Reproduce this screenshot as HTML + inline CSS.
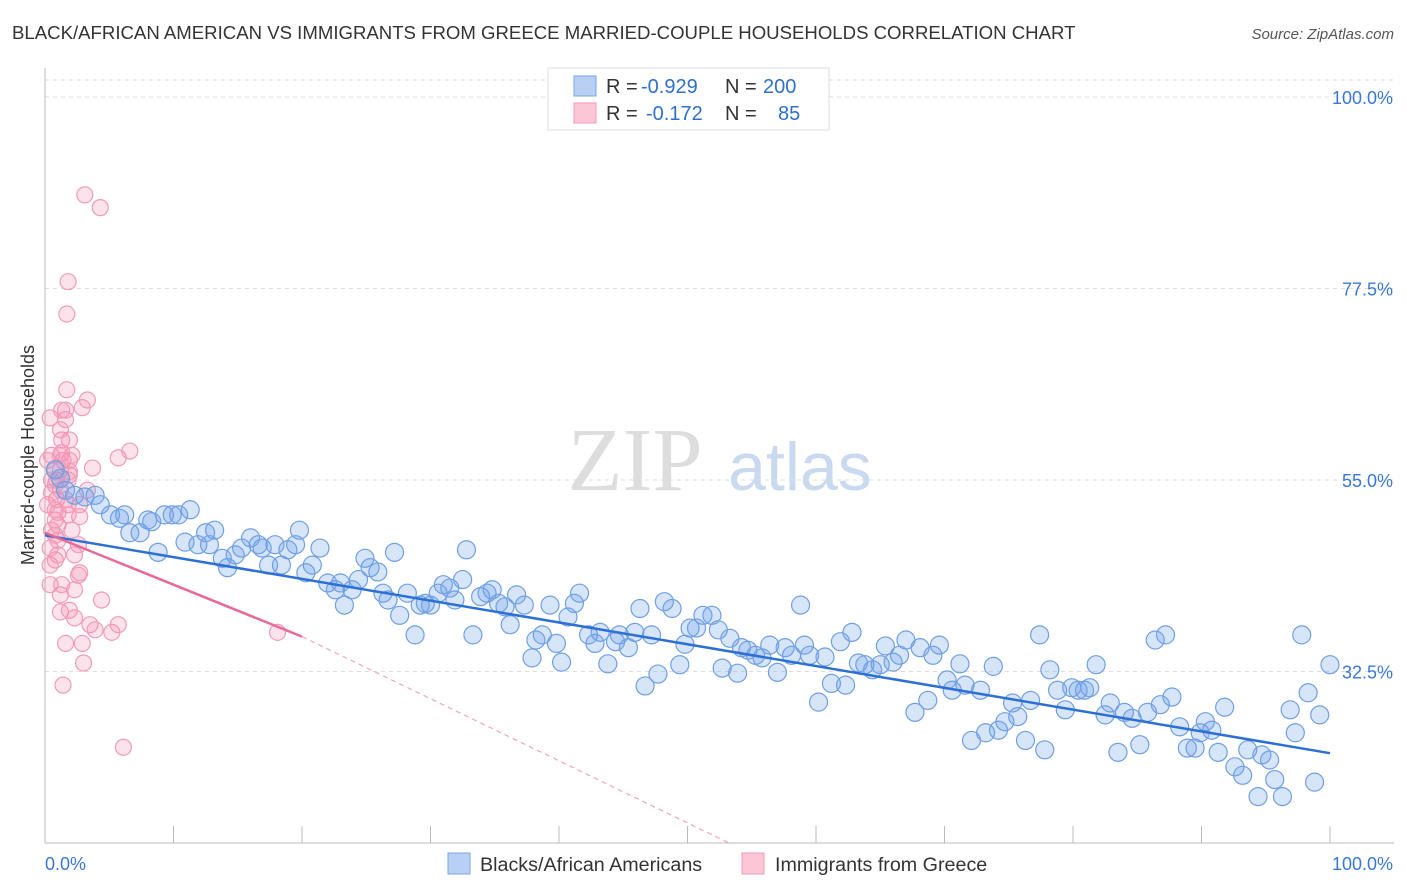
<!DOCTYPE html>
<html><head><meta charset="utf-8">
<style>
body{margin:0;background:#fff;font-family:"Liberation Sans",sans-serif;}
svg{display:block}
</style></head>
<body>
<svg id="chart" width="1406" height="892">
<text x="12" y="39" font-size="18.6" fill="#333">BLACK/AFRICAN AMERICAN VS IMMIGRANTS FROM GREECE MARRIED-COUPLE HOUSEHOLDS CORRELATION CHART</text>
<text x="1394" y="39" font-size="15" fill="#555" font-style="italic" text-anchor="end">Source: ZipAtlas.com</text>
<text x="34" y="455" font-size="18" fill="#333" text-anchor="middle" transform="rotate(-90 34 455)">Married-couple Households</text>
<g>
<text x="635" y="490" font-size="90" fill="#ddd" font-family="Liberation Serif" text-anchor="middle">ZIP</text>
<text x="800" y="490" font-size="68" fill="#c9daf0" text-anchor="middle">atlas</text>
</g>
<g id="grid"></g>
<g id="axes"></g>
<g id="pink"></g>
<g id="blue"></g>
<g id="lines"></g>
<g>
<rect x="548" y="68" width="281" height="62" fill="#fff" stroke="#ddd"/>
<rect x="574" y="76" width="22" height="20" fill="#b8d0f3" stroke="#7aa6e6"/>
<text x="606" y="93" font-size="20" fill="#333">R = </text><text x="641" y="93" font-size="20" fill="#2f6fd0">-0.929</text>
<text x="725" y="93" font-size="20" fill="#333">N = </text><text x="763" y="93" font-size="20" fill="#2f6fd0">200</text>
<rect x="574" y="103" width="22" height="20" fill="#fcc6d6" stroke="#f09ab6"/>
<text x="606" y="120" font-size="20" fill="#333">R = </text><text x="646" y="120" font-size="20" fill="#2f6fd0">-0.172</text>
<text x="725" y="120" font-size="20" fill="#333">N = </text><text x="778" y="120" font-size="20" fill="#2f6fd0">85</text>
</g>
<g>
<rect x="448" y="853" width="22" height="21" fill="#b8d0f3" stroke="#7aa6e6"/>
<text x="480" y="871" font-size="19.7" fill="#333">Blacks/African Americans</text>
<rect x="742" y="853" width="22" height="21" fill="#fcc6d6" stroke="#f09ab6"/>
<text x="775" y="871" font-size="19.7" fill="#333">Immigrants from Greece</text>
</g>
</svg>
<script>
const yTicks=[100,77.5,55,32.5];
const blueX=[0.8,1.2,1.6,2.3,3.1,3.9,4.3,5.1,5.8,6.2,6.6,7.4,8.0,8.3,8.8,9.3,9.9,10.4,10.9,11.3,11.9,12.5,12.8,13.2,13.8,14.2,14.8,15.3,16.0,16.6,16.9,17.4,17.9,18.4,18.9,19.5,19.8,20.3,20.8,21.4,22.0,22.6,23.0,23.3,23.9,24.4,24.9,25.3,25.9,26.3,26.7,27.2,27.6,28.2,28.8,29.2,29.6,30.0,30.6,31.0,31.5,31.9,32.5,32.8,33.3,33.9,34.4,34.8,35.3,35.8,36.2,36.7,37.3,37.9,38.2,38.7,39.3,39.8,40.2,40.7,41.2,41.6,42.3,42.8,43.2,43.8,44.4,44.7,45.4,45.9,46.3,46.7,47.2,47.7,48.2,48.8,49.4,49.8,50.2,50.7,51.2,51.9,52.4,52.7,53.3,53.9,54.2,54.7,55.3,55.8,56.4,57.0,57.6,58.1,58.8,59.1,59.5,60.2,60.7,61.2,61.9,62.3,62.8,63.3,63.8,64.4,65.0,65.4,66.0,66.5,67.0,67.7,68.1,68.7,69.1,69.6,70.2,70.6,71.2,71.6,72.1,72.8,73.2,73.8,74.2,74.7,75.3,75.7,76.3,76.7,77.4,77.8,78.2,78.8,79.4,79.9,80.4,80.9,81.3,81.8,82.5,82.9,83.5,84.0,84.6,85.2,85.8,86.4,86.8,87.2,87.7,88.3,88.9,89.5,89.9,90.3,90.8,91.3,91.8,92.6,93.2,93.6,94.4,94.7,95.3,95.7,96.3,96.9,97.3,97.8,98.3,98.8,99.2,100];
const blueY=[56.2,55.2,53.8,53.2,53.0,53.2,52.1,50.9,50.5,50.9,48.8,48.8,50.3,50.1,46.5,50.9,50.9,50.9,47.7,51.5,47.4,48.8,47.4,49.1,45.8,44.7,46.2,47.0,48.2,47.4,47.0,45.0,47.4,45.0,46.8,47.4,49.1,44.1,45.0,47.0,42.9,42.1,42.9,40.3,42.1,43.3,45.8,44.7,44.2,41.7,40.9,46.5,39.1,41.7,36.8,40.3,40.5,40.3,41.7,42.7,42.3,40.9,43.3,46.8,36.8,41.3,41.7,42.1,40.5,40.1,38.0,41.5,40.3,34.1,36.2,36.8,40.3,35.8,33.6,38.9,40.5,41.7,36.8,35.8,37.1,33.4,36.0,36.8,35.3,37.1,39.9,30.8,36.8,32.2,40.7,39.9,33.3,35.7,37.6,37.6,39.1,39.1,37.4,32.9,36.4,32.3,35.3,35.0,34.4,34.1,35.6,32.4,35.3,34.4,40.3,35.6,34.4,28.9,34.2,31.1,36.0,30.9,37.1,33.5,33.3,32.7,33.3,35.5,33.6,34.4,36.2,27.7,35.3,29.1,34.4,35.6,31.5,30.3,33.4,30.9,24.4,30.3,25.3,33.1,25.6,26.6,28.8,27.2,24.4,29.1,36.8,23.3,32.7,30.3,28.0,30.6,30.3,30.3,30.6,33.3,27.4,28.8,23.0,27.7,27.0,23.9,27.7,36.2,28.6,36.8,29.5,26.0,23.5,23.5,25.3,26.6,25.6,23.0,28.3,21.3,20.3,23.3,17.8,22.7,22.1,19.8,17.8,28.0,25.3,36.8,30.0,19.5,27.4,33.3];
const pinkX=[0.4,0.5,0.8,0.8,0.9,1.0,0.8,0.5,0.4,0.4,0.4,0.9,1.2,1.3,1.4,1.6,1.6,1.7,1.8,1.9,1.9,2.1,2.3,2.6,2.7,2.7,0.8,1.0,1.2,1.3,1.6,1.8,1.9,3.1,4.3,1.8,1.7,3.3,2.9,3.7,5.7,6.6,1.2,1.9,2.3,3.5,3.9,5.2,5.7,4.4,1.6,2.9,3.0,1.4,6.1,18.1,1.0,0.8,1.2,0.2,0.2,0.5,1.2,2.1,3.3,2.3,0.5,1.3,1.9,0.8,1.8,2.6,1.0,1.3,1.2,2.7];
const pinkY=[62.3,57.9,56.2,54.4,52.7,51.2,50.3,49.1,47.0,45.0,42.7,55.0,53.8,59.7,57.3,62.1,63.2,65.6,52.1,57.3,55.6,49.1,46.2,47.4,44.1,50.7,51.5,49.7,56.2,58.2,52.7,55.0,59.7,88.5,87.0,78.3,74.5,64.4,63.5,56.4,57.6,58.4,39.5,39.7,38.8,38.0,37.4,37.1,38.0,40.9,35.8,35.8,33.5,30.9,23.6,37.1,47.9,45.6,41.5,52.1,57.3,53.5,57.9,57.9,53.8,42.1,55.0,63.2,56.0,48.5,50.9,43.8,46.2,42.7,60.9,52.1];
const blueTrend=[0,48.5,100,22.9];
const pinkTrend=[0,48.8,20,36.6,53.3,12.3];
const X=v=>45+v*12.85, Y=v=>97+(100-v)*8.511;
const NS="http://www.w3.org/2000/svg";
function mk(t,a,p){const e=document.createElementNS(NS,t);for(const k in a)e.setAttribute(k,a[k]);p.appendChild(e);return e;}
const grid=document.getElementById('grid'),axes=document.getElementById('axes');
mk('line',{x1:45,y1:80,x2:1394,y2:80,stroke:'#ddd','stroke-dasharray':'4,4'},grid);
yTicks.forEach(t=>{
 const l=mk('line',{x1:45,y1:Y(t),x2:1394,y2:Y(t),stroke:'#ddd','stroke-dasharray':'4,4'},grid);
 
 
 const tx=mk('text',{x:1393,y:Y(t)+7,'font-size':18,fill:'#3a78d8','text-anchor':'end'},axes);
 tx.textContent=t.toFixed(1)+'%';
 
 
});
mk('line',{x1:45,y1:68,x2:45,y2:843,stroke:'#bbb'},axes);
mk('line',{x1:45,y1:843,x2:1394,y2:843,stroke:'#bbb'},axes);
for(let i=0;i<=10;i++){mk('line',{x1:X(i*10),y1:826,x2:X(i*10),y2:843,stroke:'#bbb'},axes);}
const t0=mk('text',{x:45,y:870,'font-size':18,fill:'#3a78d8'},axes);t0.textContent='0.0%';


const t1=mk('text',{x:1393,y:870,'font-size':18,fill:'#3a78d8','text-anchor':'end'},axes);t1.textContent='100.0%';


const pg=document.getElementById('pink');
pinkX.forEach((x,i)=>{const c=mk('circle',{cx:X(x),cy:Y(pinkY[i]),r:8,fill:'rgba(245,140,175,0.25)',stroke:'#f29bb8','stroke-width':1.2},pg);
 
 });
const bg=document.getElementById('blue');
blueX.forEach((x,i)=>{const c=mk('circle',{cx:X(x),cy:Y(blueY[i]),r:9,fill:'rgba(110,160,235,0.28)',stroke:'#6f9fe3','stroke-width':1.2},bg);
 
 });
const lg=document.getElementById('lines');
const bl=mk('line',{x1:X(blueTrend[0]),y1:Y(blueTrend[1]),x2:X(blueTrend[2]),y2:Y(blueTrend[3]),stroke:'#2c6fd6','stroke-width':2.5},lg);


const pl=mk('line',{x1:X(pinkTrend[0]),y1:Y(pinkTrend[1]),x2:X(pinkTrend[2]),y2:Y(pinkTrend[3]),stroke:'#e8689a','stroke-width':2.5},lg);


const pd=mk('line',{x1:X(pinkTrend[2]),y1:Y(pinkTrend[3]),x2:X(pinkTrend[4]),y2:Y(pinkTrend[5]),stroke:'#f2a5c0','stroke-width':1.2,'stroke-dasharray':'5,4'},lg);


</script>
</body></html>
